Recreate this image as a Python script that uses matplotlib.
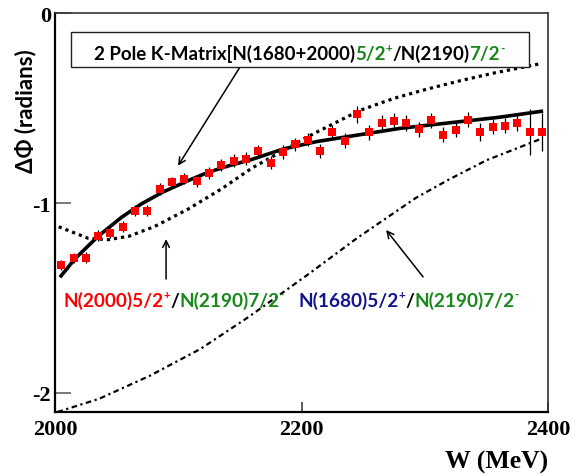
import matplotlib
matplotlib.use("Agg")
import matplotlib.pyplot as plt
from matplotlib.transforms import offset_copy
from matplotlib.patches import Rectangle

# ---------------- data ----------------
W = [2005, 2015, 2025, 2035, 2045, 2055, 2065, 2075, 2085, 2095,
     2105, 2115, 2125, 2135, 2145, 2155, 2165, 2175, 2185, 2195,
     2205, 2215, 2225, 2235, 2245, 2255, 2265, 2275, 2285, 2295,
     2305, 2315, 2325, 2335, 2345, 2355, 2365, 2375, 2385, 2395]
dphi = [-1.325, -1.289, -1.288, -1.172, -1.158, -1.125, -1.041, -1.041, -0.926, -0.891,
        -0.872, -0.883, -0.841, -0.800, -0.777, -0.767, -0.728, -0.788, -0.732, -0.691,
        -0.667, -0.725, -0.628, -0.672, -0.533, -0.628, -0.577, -0.566, -0.579, -0.612,
        -0.565, -0.640, -0.614, -0.562, -0.628, -0.598, -0.593, -0.579, -0.626, -0.628]
dphi_err = [0.027, 0.028, 0.028, 0.028, 0.028, 0.030, 0.030, 0.030, 0.030, 0.030,
            0.030, 0.032, 0.032, 0.032, 0.033, 0.033, 0.034, 0.035, 0.035, 0.035,
            0.035, 0.037, 0.037, 0.038, 0.045, 0.038, 0.040, 0.040, 0.040, 0.040,
            0.040, 0.040, 0.040, 0.040, 0.047, 0.040, 0.040, 0.040, 0.120, 0.100]

# 2-pole K-matrix fit (solid)
fit_W = [2004, 2016, 2027, 2035, 2054, 2070, 2087, 2108, 2124, 2141, 2160, 2185,
         2212, 2239, 2280, 2320, 2360, 2396]
fit_phi = [-1.391, -1.295, -1.225, -1.175, -1.075, -1.005, -0.944, -0.882, -0.839,
           -0.804, -0.770, -0.716, -0.677, -0.649, -0.607, -0.578, -0.549, -0.516]

# N(2000)5/2+ / N(2190)7/2- (dotted)
n2000_W = [2003, 2027, 2043, 2060, 2081, 2108, 2135, 2160, 2185, 2199, 2212, 2239,
           2248, 2275, 2302, 2329, 2356, 2383, 2395]
n2000_phi = [-1.125, -1.186, -1.193, -1.175, -1.123, -1.032, -0.926, -0.815, -0.725,
             -0.672, -0.628, -0.540, -0.511, -0.449, -0.400, -0.356, -0.316, -0.281, -0.265]

# N(1680)5/2+ / N(2190)7/2- (dash-dot)
n1680_W = [2002, 2036, 2077, 2118, 2157, 2204, 2245, 2293, 2320, 2350, 2394]
n1680_phi = [-2.100, -2.030, -1.909, -1.768, -1.600, -1.382, -1.185, -0.972, -0.875,
             -0.775, -0.663]

x_ticks = [2000, 2200, 2400]
y_ticks = [0, -1, -2]

# ---------------- style ----------------
SANS = ['Lato', 'DejaVu Sans']
SERIF = ['Liberation Serif', 'DejaVu Serif']
RED = '#ff0000'
GREEN = '#18881a'
BLUE = '#14148c'

fig = plt.figure(figsize=(5.78, 4.77), dpi=100)
ax = fig.add_axes([0.0952, 0.1342, 0.8530, 0.8364])

ax.plot(n1680_W, n1680_phi, color='black', lw=1.6, linestyle=(0, (2.5, 1.6, 1.0, 1.6)), zorder=2)
ax.plot(n2000_W, n2000_phi, color='black', lw=2.3, linestyle=(0, (1.0, 1.25)), zorder=2)
ax.plot(fit_W, fit_phi, color='black', lw=2.6, solid_capstyle='butt', zorder=2)
ax.errorbar(W, dphi, yerr=dphi_err, fmt='s', color=RED, markersize=5.8, markeredgewidth=0,
            ecolor='black', elinewidth=0.9, capsize=2.5, capthick=0.9, zorder=3)

ax.set_xlim(2000, 2400)
ax.set_ylim(-2.1, 0)
ax.set_xticks(x_ticks)
ax.set_yticks(y_ticks)
ax.set_xticklabels([str(v) for v in x_ticks])
ax.set_yticklabels([str(v) for v in y_ticks])
ax.minorticks_off()
ax.tick_params(axis='y', direction='in', length=11.5, width=1.1, color='#555555', pad=3,
               left=True, right=False)
ax.tick_params(axis='x', direction='in', length=7.5, width=1.1, color='#333333', pad=5,
               bottom=True, top=False)
for lab in ax.get_xticklabels() + ax.get_yticklabels():
    lab.set_fontfamily(SERIF)
    lab.set_fontweight('bold')
    lab.set_fontsize(16)
for s in ['left', 'bottom']:
    ax.spines[s].set_linewidth(1.6)
    ax.spines[s].set_color('black')
for s in ['top', 'right']:
    ax.spines[s].set_linewidth(1.2)
    ax.spines[s].set_color('#333333')

ax.set_xlabel('W (MeV)', fontfamily=SERIF, fontweight='bold', fontsize=18.5, ha='right', va='center')
ax.xaxis.set_label_coords(1.0, -0.123)
ax.set_ylabel('ΔΦ (radians)', fontfamily=SANS, fontweight='bold', fontsize=16, ha='center', va='center')
ax.yaxis.set_label_coords(-0.059, 0.757)

renderer = fig.canvas.get_renderer()


def rich_text(x, y, pieces, size, ha='left'):
    widths = []
    for s, c, sup in pieces:
        fs = size * 0.62 if sup else size
        t = ax.text(0, 0, s, fontsize=fs, fontweight='bold', fontfamily=SANS)
        widths.append(t.get_window_extent(renderer).width * 72.0 / fig.dpi)
        t.remove()
    total = sum(widths)
    off = -total / 2.0 if ha == 'center' else 0.0
    arts = []
    for (s, c, sup), w in zip(pieces, widths):
        fs = size * 0.62 if sup else size
        tr = offset_copy(ax.transData, fig=fig, x=off, y=(size * 0.40 if sup else 0.0), units='points')
        arts.append(ax.text(x, y, s, fontsize=fs, fontweight='bold', fontfamily=SANS, color=c,
                            transform=tr, ha='left', va='baseline', clip_on=False, zorder=6))
        off += w
    return arts


FS = 13.7
# box annotation
ax.add_patch(Rectangle((0.0325, 0.8647), 0.929, 0.0877, transform=ax.transAxes,
                       facecolor='white', edgecolor='#222222', lw=1.0, zorder=5))
rich_text(2198, -0.242, [('2 Pole K-Matrix[N(1680+2000)', 'black', False),
                         ('5/2', GREEN, False), ('+', GREEN, True),
                         ('/N(2190)', 'black', False),
                         ('7/2', GREEN, False), ('-', GREEN, True)], 13.5, ha='center')
ax.annotate('', xy=(2099.8, -0.804), xytext=(2150.1, -0.284),
            arrowprops=dict(arrowstyle='->', color='black', lw=1.1, mutation_scale=12,
                            shrinkA=0, shrinkB=0), zorder=4)

# lower labels
rich_text(2006.8, -1.540, [('N(2000)5/2', RED, False), ('+', RED, True),
                           ('/', 'black', False),
                           ('N(2190)7/2', GREEN, False), ('-', GREEN, True)], FS)
ax.annotate('', xy=(2090.1, -1.19), xytext=(2090.1, -1.40),
            arrowprops=dict(arrowstyle='->', color='black', lw=1.1, mutation_scale=12,
                            shrinkA=0, shrinkB=0), zorder=4)

rich_text(2197.4, -1.540, [('N(1680)5/2', BLUE, False), ('+', BLUE, True),
                           ('/', 'black', False),
                           ('N(2190)7/2', GREEN, False), ('-', GREEN, True)], FS)
ax.annotate('', xy=(2268.6, -1.142), xytext=(2298.6, -1.389),
            arrowprops=dict(arrowstyle='->', color='black', lw=1.1, mutation_scale=12,
                            shrinkA=0, shrinkB=0), zorder=4)

fig.savefig('out.png', dpi=100)
